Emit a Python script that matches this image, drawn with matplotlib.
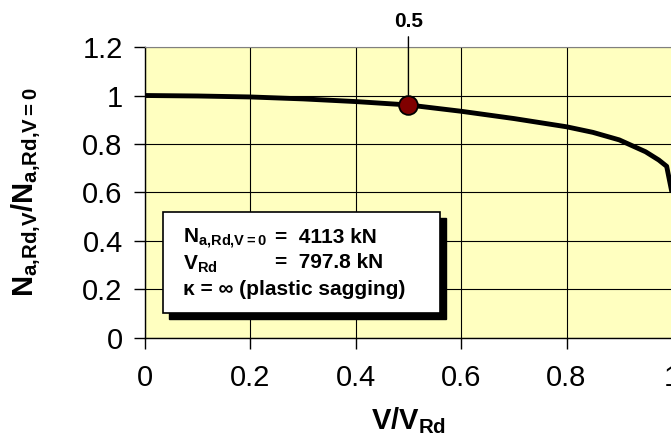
import matplotlib.pyplot as plt
from matplotlib.patches import Rectangle

plt.rcParams['font.family'] = ['Liberation Sans', 'DejaVu Sans']
plt.rcParams['mathtext.fontset'] = 'custom'
plt.rcParams['mathtext.rm'] = 'Liberation Sans'
plt.rcParams['mathtext.bf'] = 'Liberation Sans:bold'
plt.rcParams['mathtext.it'] = 'Liberation Sans:italic'

# interaction curve
v_ratio = [0.0, 0.1, 0.2, 0.3, 0.4, 0.5, 0.6, 0.7, 0.8, 0.85, 0.9, 0.95, 0.975, 0.99, 1.0]
n_ratio = [1.0, 0.998, 0.994, 0.986, 0.975, 0.961, 0.935, 0.905, 0.871, 0.848, 0.817, 0.768, 0.734, 0.708, 0.6]

mark_v = 0.5
mark_n = 0.961

xticks = [0, 0.2, 0.4, 0.6, 0.8, 1.0]
xlabels = ['0', '0.2', '0.4', '0.6', '0.8', '1']
yticks = [0, 0.2, 0.4, 0.6, 0.8, 1.0, 1.2]
ylabels = ['0', '0.2', '0.4', '0.6', '0.8', '1', '1.2']

fig = plt.figure(figsize=(6.71, 4.41), dpi=100)
ax = fig.add_axes([0.216, 0.2336, 0.7854, 0.6598])
ax.set_facecolor('#ffffc0')

ax.plot(v_ratio, n_ratio, color='black', lw=3.5, solid_capstyle='butt',
        solid_joinstyle='round', zorder=3)
ax.plot([mark_v], [mark_n], 'o', ms=13.5, mfc='#800000', mec='black', mew=1.3, zorder=5)
ax.annotate('0.5', xy=(mark_v, mark_n), xytext=(mark_v, 1.265),
            textcoords='data', ha='center', va='bottom', fontsize=15,
            fontweight='bold', annotation_clip=False,
            arrowprops=dict(arrowstyle='-', color='black', lw=1,
                            shrinkA=2, shrinkB=7))

ax.set_xlim(0, 1)
ax.set_ylim(0, 1.2)
ax.set_xticks(xticks)
ax.set_xticklabels(xlabels)
ax.set_yticks(yticks)
ax.set_yticklabels(ylabels)
ax.tick_params(direction='out', length=8, width=1, labelsize=21, pad=8)
ax.tick_params(axis='x', pad=11)
ax.grid(True, color='black', lw=0.8)
ax.set_axisbelow(True)
for s in ['left', 'bottom']:
    ax.spines[s].set_color('black')
    ax.spines[s].set_linewidth(1)
ax.spines['top'].set_color('#808080')
ax.spines['right'].set_visible(False)

ax.set_xlabel(r'$\mathbf{V/V_{Rd}}$', fontsize=21, labelpad=9)
ax.set_ylabel(r'$\mathbf{N_{a{,}Rd{,}V}/N_{a{,}Rd{,}V=0}}$', fontsize=21, labelpad=28)

# info box with shadow
bx, by, bw, bh = 0.034, 0.103, 0.526, 0.417
ax.add_patch(Rectangle((bx + 0.011, by - 0.025), bw, bh, facecolor='black',
                       edgecolor='black', zorder=6))
ax.add_patch(Rectangle((bx, by), bw, bh, facecolor='white',
                       edgecolor='black', lw=1.2, zorder=7))
tx = 0.072
ax.text(tx, 0.41, r'$\mathbf{N_{a{,}Rd{,}V=0}}$', fontsize=15, va='center', zorder=8)
ax.text(0.247, 0.415, '=  4113 kN', fontsize=15, fontweight='bold', va='center', zorder=8)
ax.text(tx, 0.305, r'$\mathbf{V_{Rd}}$', fontsize=15, va='center', zorder=8)
ax.text(0.247, 0.31, '=  797.8 kN', fontsize=15, fontweight='bold', va='center', zorder=8)
ax.text(tx, 0.198, '\u03ba = \u221e (plastic sagging)', fontsize=15,
        fontweight='bold', va='center', zorder=8)

fig.savefig('out.png', dpi=100)
